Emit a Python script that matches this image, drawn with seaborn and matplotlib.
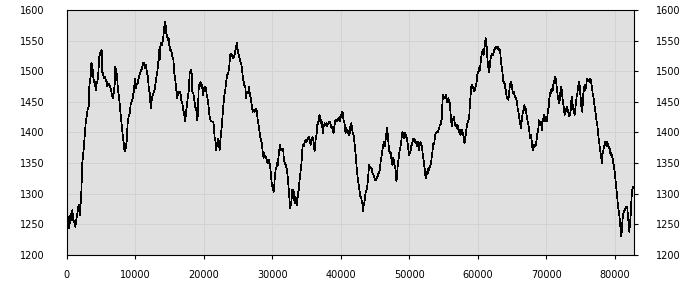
import matplotlib
matplotlib.use("Agg")
import matplotlib.pyplot as plt
import seaborn as sns
import pandas as pd

x_values = [
    0, 122, 219, 316, 413, 510, 608, 753, 851, 996, 1142, 1288, 1434, 1580, 1725, 1822, 1920, 2066, 2163, 2308,
    2454, 2649, 2795, 2940, 3086, 3232, 3329, 3426, 3524, 3621, 3767, 3912, 4010, 4155, 4252, 4350, 4496, 4641, 4787, 4884,
    4982, 5127, 5224, 5322, 5468, 5565, 5710, 5856, 5954, 6099, 6245, 6440, 6585, 6731, 6877, 7022, 7120, 7217, 7363, 7508,
    7654, 7800, 7946, 8092, 8238, 8384, 8481, 8578, 8675, 8772, 8918, 9064, 9210, 9356, 9502, 9647, 9842, 9987, 10085, 10230,
    10376, 10522, 10668, 10814, 11008, 11154, 11251, 11348, 11494, 11591, 11737, 11882, 12028, 12174, 12272, 12369, 12514, 12660, 12806, 12952,
    13098, 13244, 13389,
    13487, 13584, 13681, 13827, 13924, 14022, 14119, 14216, 14313, 14410, 14508, 14605, 14702, 14799, 14896, 14994, 15091, 15188, 15285, 15431,
    15577, 15723, 15868, 16014, 16160, 16306, 16452, 16597, 16743, 16889, 17035, 17181, 17326, 17424, 17569, 17715, 17861, 17958, 18055, 18153,
    18250, 18347, 18493, 18639, 18784, 18930, 19076, 19173, 19270, 19368, 19465, 19562, 19659, 19756, 19854, 19951, 20048, 20194, 20340, 20485,
    20631, 20777, 20874, 21020, 21166, 21312, 21457, 21603, 21749, 21846, 21943, 22041, 22138, 22235, 22332, 22429, 22575, 22721, 22867, 23013,
    23158, 23304, 23450, 23596, 23742, 23887, 24033, 24179, 24325, 24471, 24616, 24762, 24859, 24957, 25102, 25200, 25345, 25491, 25637, 25783,
    25929, 26074, 26220, 26317, 26463, 26560, 26658, 26755, 26901, 27046, 27192,
    27338, 27484, 27630, 27775, 27921, 28067, 28213, 28359, 28504, 28650, 28747, 28845, 28942, 29039, 29136, 29233, 29331, 29428, 29525, 29622,
    29719, 29817, 29914, 30011, 30108, 30205, 30303, 30400, 30546, 30643, 30740, 30837, 30934, 31032, 31129, 31226, 31323, 31420, 31518, 31615,
    31712, 31858, 32004, 32149, 32247, 32344, 32441, 32538, 32635, 32733, 32830, 32927, 33024, 33121, 33219, 33316, 33413, 33510, 33607, 33705,
    33802, 33899, 33996, 34142, 34288, 34385, 34482, 34579, 34677, 34774, 34920, 35065, 35211, 35357, 35503, 35600, 35697, 35794, 35892, 35989,
    36086, 36183, 36280, 36378, 36475, 36572, 36718, 36815, 36912, 37009, 37107, 37204, 37301, 37398, 37495, 37593, 37690, 37787, 37884, 37981,
    38079, 38176, 38273, 38370, 38467, 38565, 38662, 38759, 38856, 38953, 39051, 39148, 39245, 39342, 39439, 39537, 39634, 39731, 39828, 39925,
    40023, 40120, 40217, 40314, 40411, 40509, 40606, 40703, 40800, 40897, 40995, 41092,
    41188, 41334, 41431, 41528, 41625, 41723, 41820, 41917, 42014, 42111, 42209, 42306, 42403, 42500, 42597, 42695, 42792, 42889, 42986, 43083,
    43181, 43278, 43375, 43472, 43569, 43667, 43764, 43861, 43958, 44055, 44153, 44250, 44347, 44493, 44639, 44784, 44930, 45076, 45222, 45368,
    45513, 45659, 45805, 45951, 46097, 46242, 46388, 46485, 46583, 46680, 46777, 46874, 46971, 47069, 47166, 47263, 47360, 47457, 47555, 47652,
    47749, 47846, 47943, 48041, 48138, 48235, 48332, 48429, 48527, 48624, 48721, 48818, 48915, 49013, 49110, 49207, 49304, 49401, 49499, 49596,
    49693, 49790, 49887, 49985, 50082, 50179, 50276, 50373, 50471, 50568, 50665, 50762, 50859, 50957, 51054, 51151, 51248, 51345, 51443, 51540,
    51637, 51734, 51831, 51929, 52026, 52123, 52220, 52317, 52415, 52512, 52609, 52706, 52803, 52901, 52998, 53095, 53192, 53289, 53387, 53484,
    53581, 53678, 53775, 53873, 53970, 54067, 54164, 54261, 54359, 54456, 54553, 54650, 54747, 54845, 54942,
    55040, 55186, 55332, 55429, 55526, 55623, 55720, 55818, 55915, 56012, 56109, 56206, 56304, 56401, 56498, 56595, 56692, 56790, 56887, 56984,
    57081, 57178, 57276, 57373, 57470, 57567, 57664, 57762, 57859, 57956, 58053, 58150, 58248, 58345, 58442, 58539, 58636, 58734, 58831, 58928,
    59025, 59122, 59220, 59317, 59414, 59511, 59608, 59706, 59803, 59900, 59997, 60094, 60192, 60289, 60386, 60483, 60580, 60678, 60775, 60872,
    60969, 61066, 61164, 61261, 61358, 61455, 61552, 61650, 61747, 61844, 61941, 62038, 62136, 62233, 62330, 62427, 62524, 62622, 62719, 62816,
    62913, 63010, 63108, 63205, 63302, 63399, 63496, 63594, 63691, 63788, 63885, 63982, 64080, 64177, 64274, 64371, 64468, 64566, 64663, 64760,
    64857, 64954, 65052, 65149, 65246, 65343, 65440, 65538, 65635, 65732, 65829, 65926, 66024, 66121, 66218, 66315, 66412, 66510, 66607, 66704,
    66801, 66898, 66996, 67093, 67190, 67287, 67384, 67482, 67579, 67676, 67773, 67870, 67968, 68065, 68162, 68259, 68356, 68454, 68551, 68648,
    68745, 68842,
    68890, 68987, 69084, 69182, 69279, 69376, 69473, 69570, 69668, 69765, 69862, 69959, 70056, 70154, 70251, 70348, 70445, 70542, 70640, 70737,
    70834, 70931, 71028, 71126, 71223, 71320, 71417, 71514, 71612, 71709, 71806, 71903, 72000, 72098, 72195, 72292, 72389, 72486, 72584, 72681,
    72778, 72875, 72972, 73070, 73167, 73264, 73361, 73458, 73556, 73653, 73750, 73847, 73944, 74042, 74139, 74236, 74333, 74430, 74528, 74625,
    74722, 74819, 74916, 75014, 75111, 75208, 75305, 75402, 75500, 75597, 75694, 75791, 75888, 75986, 76083, 76180, 76277, 76374, 76472, 76569,
    76666, 76763, 76860, 76958, 77055, 77152, 77249, 77346, 77444, 77541, 77638, 77735, 77832, 77930, 78027, 78124, 78221, 78318, 78416, 78513,
    78610, 78707, 78804, 78902, 78999, 79096, 79193, 79290, 79388, 79485, 79582, 79679, 79776, 79874, 79971, 80068, 80165, 80262, 80360, 80457,
    80554, 80651, 80748, 80846, 80943, 81040, 81137, 81234, 81332, 81429, 81526, 81623, 81720, 81818, 81915, 82012, 82109, 82206, 82304, 82401,
    82498, 82595, 82692, 82790,
]

y_values = [
    1271, 1254, 1263, 1257, 1244, 1260, 1268, 1257, 1273, 1257, 1254, 1246, 1257, 1268, 1279, 1282, 1265, 1284, 1303, 1350,
    1366, 1393, 1415, 1426, 1437, 1442, 1475, 1486, 1491, 1513, 1510, 1491, 1483, 1483, 1469, 1483, 1480, 1497, 1524, 1529,
    1532, 1535, 1499, 1497, 1488, 1491, 1486, 1483, 1475, 1480, 1478, 1472, 1464, 1456, 1464, 1478, 1507, 1502, 1494, 1469,
    1459, 1442, 1426, 1407, 1393, 1380, 1369, 1382, 1374, 1385, 1415, 1426, 1431, 1445, 1450, 1456, 1469, 1488, 1472, 1478,
    1480, 1488, 1494, 1499, 1505, 1513, 1510, 1513, 1505, 1510, 1497, 1491, 1469, 1464, 1439, 1448, 1459, 1464, 1467, 1478,
    1488, 1499, 1513,
    1535, 1518, 1540, 1546, 1543, 1548, 1556, 1567, 1576, 1581, 1570, 1556, 1559, 1551, 1554, 1543, 1537, 1532, 1535, 1524,
    1521, 1497, 1486, 1469, 1456, 1467, 1464, 1467, 1453, 1448, 1437, 1429, 1418, 1431, 1445, 1459, 1469, 1497, 1499, 1502,
    1499, 1467, 1464, 1453, 1442, 1437, 1420, 1431, 1469, 1478, 1480, 1483, 1475, 1478, 1469, 1461, 1472, 1475, 1472, 1459,
    1453, 1437, 1426, 1420, 1418, 1418, 1415, 1393, 1385, 1371, 1382, 1377, 1390, 1382, 1371, 1385, 1401, 1420, 1442, 1459,
    1469, 1483, 1494, 1497, 1507, 1527, 1529, 1524, 1521, 1524, 1532, 1540, 1546, 1537, 1527, 1524, 1516, 1513, 1499, 1486,
    1478, 1475, 1456, 1467, 1464, 1469, 1475, 1461, 1456, 1442, 1434,
    1437, 1434, 1439, 1434, 1418, 1410, 1396, 1388, 1382, 1366, 1358, 1366, 1361, 1358, 1361, 1352, 1355, 1350, 1355, 1350,
    1344, 1333, 1320, 1312, 1309, 1303, 1312, 1328, 1342, 1344, 1350, 1347, 1361, 1371, 1380, 1374, 1371, 1374, 1369, 1374,
    1355, 1350, 1347, 1339, 1331, 1317, 1303, 1290, 1276, 1282, 1290, 1306, 1303, 1306, 1290, 1284, 1295, 1287, 1282, 1293,
    1303, 1306, 1322, 1336, 1350, 1369, 1380, 1377, 1382, 1385, 1388, 1385, 1390, 1393, 1388, 1380, 1385, 1390, 1393, 1388,
    1382, 1369, 1382, 1393, 1396, 1412, 1415, 1426, 1429, 1420, 1415, 1420, 1412, 1399, 1412, 1410, 1415, 1412, 1415, 1410,
    1412, 1415, 1415, 1418, 1415, 1412, 1407, 1410, 1404, 1399, 1407, 1415, 1420, 1418, 1420, 1418, 1423, 1420, 1426, 1418,
    1426, 1431, 1434, 1431, 1420, 1418, 1412, 1399, 1407, 1401, 1404, 1399,
    1396, 1399, 1412, 1415, 1410, 1401, 1399, 1393, 1382, 1371, 1361, 1347, 1333, 1325, 1317, 1309, 1301, 1295, 1295, 1287,
    1284, 1271, 1284, 1287, 1298, 1303, 1306, 1309, 1322, 1336, 1347, 1344, 1342, 1342, 1333, 1331, 1325, 1322, 1325, 1328,
    1333, 1336, 1350, 1361, 1371, 1382, 1385, 1377, 1393, 1399, 1407, 1396, 1382, 1371, 1366, 1369, 1361, 1352, 1347, 1358,
    1355, 1347, 1344, 1333, 1320, 1333, 1347, 1355, 1366, 1371, 1377, 1385, 1393, 1401, 1399, 1396, 1390, 1399, 1396, 1393,
    1388, 1380, 1371, 1363, 1366, 1369, 1377, 1380, 1385, 1390, 1390, 1385, 1388, 1382, 1385, 1377, 1385, 1382, 1371, 1380,
    1385, 1382, 1377, 1369, 1361, 1352, 1344, 1333, 1325, 1331, 1336, 1333, 1342, 1339, 1344, 1347, 1352, 1361, 1369, 1382,
    1380, 1385, 1396, 1399, 1399, 1401, 1401, 1404, 1407, 1412, 1412, 1418, 1423, 1450, 1461,
    1459, 1456, 1461, 1456, 1450, 1453, 1456, 1450, 1448, 1434, 1420, 1410, 1423, 1420, 1426, 1418, 1412, 1410, 1412, 1407,
    1412, 1404, 1401, 1404, 1396, 1399, 1404, 1401, 1396, 1393, 1382, 1388, 1396, 1407, 1412, 1418, 1420, 1423, 1442, 1456,
    1472, 1478, 1472, 1475, 1469, 1467, 1472, 1475, 1480, 1491, 1499, 1497, 1505, 1502, 1510, 1521, 1529, 1532, 1535, 1527,
    1537, 1548, 1554, 1546, 1529, 1513, 1505, 1499, 1507, 1518, 1524, 1527, 1529, 1527, 1532, 1535, 1537, 1540, 1537, 1540,
    1540, 1535, 1537, 1535, 1529, 1513, 1507, 1499, 1486, 1480, 1483, 1475, 1469, 1461, 1456, 1459, 1453, 1464, 1475, 1480,
    1483, 1478, 1469, 1464, 1467, 1461, 1459, 1456, 1453, 1450, 1437, 1434, 1426, 1418, 1412, 1407, 1420, 1429, 1434, 1439,
    1445, 1437, 1439, 1431, 1423, 1418, 1412, 1407, 1396, 1390, 1396, 1385, 1374, 1371, 1377, 1380, 1377, 1380, 1385, 1396,
    1401, 1407,
    1420, 1415, 1412, 1418, 1415, 1404, 1420, 1423, 1429, 1426, 1418, 1420, 1418, 1426, 1437, 1442, 1456, 1461, 1469, 1464,
    1472, 1469, 1478, 1483, 1486, 1491, 1483, 1475, 1464, 1456, 1453, 1448, 1459, 1472, 1475, 1464, 1453, 1445, 1437, 1429,
    1434, 1437, 1442, 1434, 1437, 1431, 1426, 1429, 1437, 1453, 1459, 1445, 1437, 1434, 1429, 1439, 1450, 1459, 1464, 1475,
    1480, 1483, 1469, 1456, 1442, 1434, 1445, 1464, 1472, 1478, 1469, 1475, 1483, 1488, 1486, 1486, 1483, 1488, 1486, 1480,
    1472, 1464, 1459, 1450, 1442, 1434, 1426, 1418, 1412, 1401, 1390, 1382, 1371, 1366, 1358, 1350, 1366, 1371, 1377, 1380,
    1385, 1382, 1377, 1385, 1380, 1374, 1377, 1369, 1363, 1366, 1361, 1358, 1350, 1344, 1336, 1325, 1314, 1303, 1293, 1279,
    1273, 1265, 1252, 1241, 1230, 1244, 1260, 1268, 1271, 1273, 1276, 1279, 1279, 1276, 1263, 1249, 1238, 1252, 1265, 1287,
    1303, 1312, 1309, 1312,
]

x_ticks = [0, 10000, 20000, 30000, 40000, 50000, 60000, 70000, 80000]
y_ticks = [1200, 1250, 1300, 1350, 1400, 1450, 1500, 1550, 1600]

df = pd.DataFrame({"x": x_values, "value": y_values})

sns.set_theme(style="white")
plt.rcParams["font.family"] = ["DejaVu Sans"]

fig = plt.figure(figsize=(7, 3), dpi=100)
ax = fig.add_axes([66.5 / 700, 1 - 255 / 300, (634 - 66.5) / 700, 245 / 300])
ax.set_facecolor("#e0e0e0")

sns.lineplot(data=df, x="x", y="value", ax=ax, color="black", linewidth=0.5,
             estimator=None, sort=False, antialiased=False)

ax.set_xlim(0, x_values[-1])
ax.set_ylim(1200, 1600)
ax.set_xticks(x_ticks)
ax.set_xticklabels([str(t) for t in x_ticks])
ax.set_yticks(y_ticks)
ax.set_yticklabels([str(t) for t in y_ticks])
ax.grid(True, color="#d2d2d2", linewidth=0.7, antialiased=False)
ax.set_axisbelow(True)
ax.set_xlabel("")
ax.set_ylabel("")

for s in ax.spines.values():
    s.set_visible(True)
    s.set_color("black")
    s.set_linewidth(0.8)

ax.tick_params(axis="x", bottom=True, direction="out", length=3, width=0.8,
               color="black", labelsize=7, pad=8, labelcolor="black")
ax.tick_params(axis="y", left=False, right=True, labelleft=True, labelright=True,
               direction="out", length=3, width=0.8, color="black",
               labelsize=7, labelcolor="black")
for t in ax.yaxis.get_major_ticks():
    t.set_pad(13)

fig.savefig("out.png", dpi=100, facecolor="white")
